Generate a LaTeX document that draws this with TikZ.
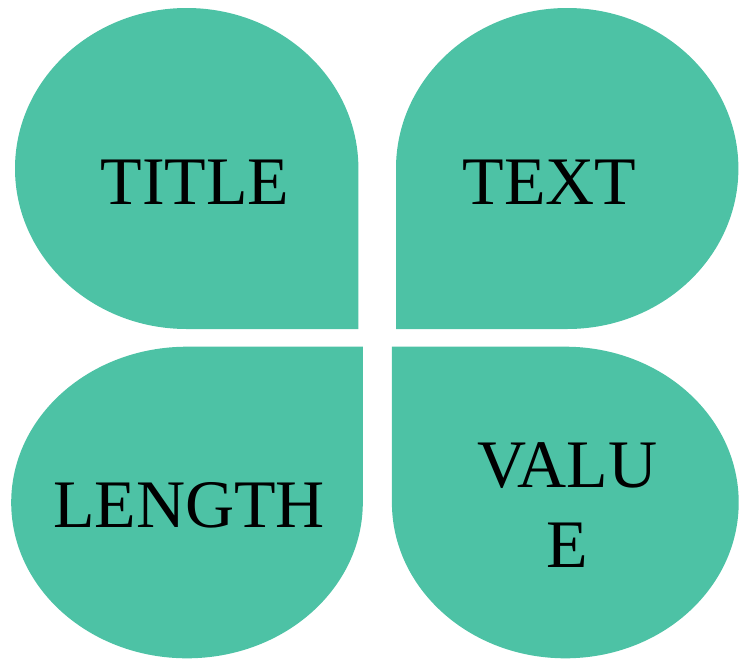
\documentclass[tikz,border=0pt]{standalone}
\usepackage{fontspec}
\setmainfont{Liberation Serif}
\definecolor{petalgreen}{RGB}{77,194,165}
\begin{document}
\begin{tikzpicture}[x=1pt,y=-1pt,
  petal/.style={fill=petalgreen,draw=none},
  label/.style={inner sep=0pt,anchor=base,text=black,
    font=\fontsize{68}{80}\selectfont}]
\path[use as bounding box] (0,0) rectangle (739,659);

% upper left petal, square corner towards the middle
\path[petal] (358.4,329) -- (358.4,168.5)
  arc[start angle=0,end angle=-270,x radius=171.7,y radius=160.5] -- cycle;
% upper right petal
\path[petal] (396,329) -- (396,168.5)
  arc[start angle=180,end angle=450,x radius=171.2,y radius=160.5] -- cycle;
% lower left petal
\path[petal] (362.8,346.7) -- (187,346.7)
  arc[start angle=-90,end angle=-360,x radius=175.8,y radius=155.8] -- cycle;
% lower right petal
\path[petal] (391.8,346.7) -- (565.3,346.7)
  arc[start angle=-90,end angle=180,x radius=173.4,y radius=155.8] -- cycle;

\node[label] (title) at (195,204) {TITLE};
\node[label] (text) at (549.5,204) {TEXT};
\node[label] (length) at (189,527) {LENGTH};
\node[label] (value) at (567.5,487.5)
  {\begin{tabular}[t]{@{}c@{}}VALU\\E\end{tabular}};
\end{tikzpicture}
\end{document}
